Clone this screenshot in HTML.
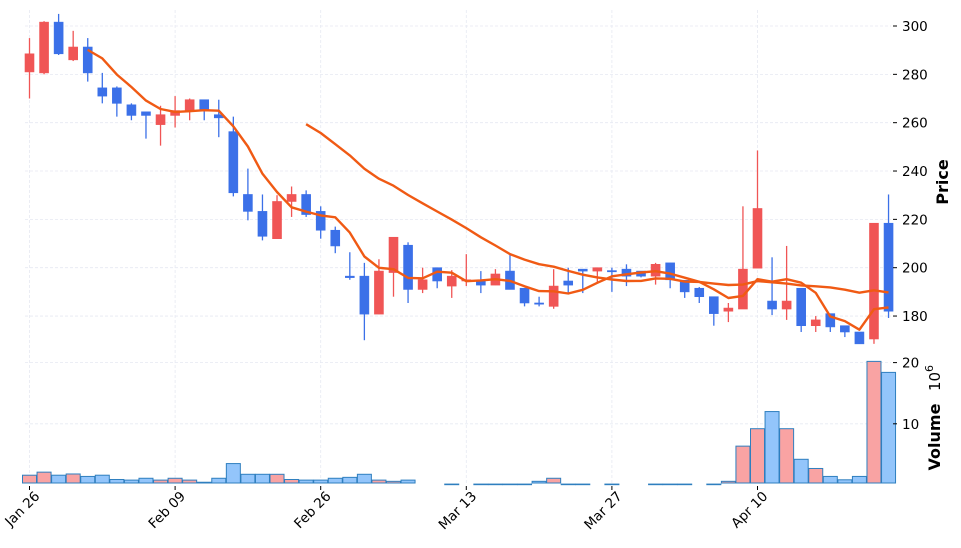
<!DOCTYPE html>
<html><head><meta charset="utf-8"><style>
html,body{margin:0;padding:0;background:#fff;}
svg{display:block;font-family:"DejaVu Sans","Liberation Sans",sans-serif;}
</style></head><body>
<svg id="chart" width="961" height="548" viewBox="0 0 961 548" xmlns="http://www.w3.org/2000/svg">
<g id="grid"></g>
<g id="vol"></g>
<g id="candles"></g>
<g id="mas"></g>
<g id="axes"></g>
<text x="0" y="0" transform="translate(948,182) rotate(-90)" text-anchor="middle" font-size="16" font-weight="bold">Price</text>
<text x="0" y="0" transform="translate(940,437) rotate(-90)" text-anchor="middle" font-size="16" font-weight="bold">Volume</text>
<text x="0" y="0" transform="translate(940,378) rotate(-90)" text-anchor="middle" font-size="15">10<tspan font-size="11" dy="-7">6</tspan></text>
</svg>
<script>
const opens  = [281,280.6,301.6,286,291.3,274.4,274.4,267.4,264.5,259.2,263,265,269.5,263.3,256.3,230.3,223.3,212,227.4,230.3,223.3,215.5,196.5,196.5,180.8,198,209.3,191,200,192.4,194.5,194.8,192.8,198.6,191.5,185.4,184,194.5,199.4,198.6,198.8,199.4,198.6,196.5,202,194.8,191.5,188,182,182.9,199.8,186.2,182.9,191.5,176,181,176,173.4,170.5,218.4];
const closes = [288.5,301.6,288.5,291.3,280.6,271,268,263,263,263.3,265,269.5,265,262,231,223.3,213,227.4,230.3,222,215.5,209,195.9,180.8,198.6,212.6,191,195,194.5,196.5,195,192.8,197.4,191,185.4,185,192.4,192.8,198.6,200,198.4,196.5,196.5,201.4,195,190,188,181,183.3,199.4,224.5,182.9,186.2,176,178.4,175.5,173.4,168.5,218.4,182];
const highs  = [295,302,305,298,295,280.6,275,268,264.5,267,271,270,269.5,269.5,262.5,241,230.3,230,233.6,232,225.4,217,206.4,202,203.5,212.6,210.5,200,200,199,205.6,198.6,199.4,205.6,191.5,188,199.4,200,199.4,200,200,201.4,198.6,202,202,194.8,192,188,185.4,225.4,248.5,204.3,209,191.5,180,181,176,173.4,218.4,230.3];
const lows   = [270,280,288,285.5,277,268,262.5,261,253.4,250.5,258,261,261,254,229.5,219.6,211.3,212,221,221,212,206,195,170,180.8,188,185.4,189.5,191.5,187.5,192.4,189.5,192.8,191,184,184,183,189.5,189.5,194,190,192.4,196,193,191.5,187.5,185.4,176,177.5,182.9,199.8,180.4,178.4,173.4,173.4,173.4,171.3,168.5,168.5,179.2];
const volumes = [1.6,2.1,1.6,1.8,1.4,1.6,0.9,0.8,1.1,0.8,1.1,0.8,0.45,1.1,3.5,1.75,1.75,1.75,0.9,0.8,0.8,1.1,1.25,1.75,0.8,0.6,0.8,0,0,0.15,0,0.15,0.15,0.15,0.15,0.6,1.1,0.15,0.15,0,0.15,0,0,0.15,0.15,0.15,0,0.15,0.6,6.35,9.2,12,9.2,4.2,2.7,1.4,0.85,1.4,20.2,18.4];
const xTickIdx = [0,10,20,30,40,50];
const xTickLabels = ["Jan 26","Feb 09","Feb 26","Mar 13","Mar 27","Apr 10"];
const priceTicks = [180,200,220,240,260,280,300];
const volTicks = [10,20];
const maPeriods = [5,20];

const NS="http://www.w3.org/2000/svg";
const L=25,R=891,MT=10,MB=356,VT=356,VB=483;
const xs=i=>29.5+i*14.56;
const yp=p=>26+(300-p)*2.417;
const yv=v=>485-v*6.12;
function mk(tag,attrs,parent){const e=document.createElementNS(NS,tag);for(const k in attrs)e.setAttribute(k,attrs[k]);parent.appendChild(e);return e;}
const grid=document.getElementById('grid'),axes=document.getElementById('axes');
const gs={stroke:"#e6e9f2","stroke-width":0.8,"stroke-dasharray":"3,2"};
priceTicks.forEach(t=>{
  const g=mk('line',Object.assign({x1:L,x2:R,y1:yp(t),y2:yp(t)},gs),grid);
  
  const tk=mk('line',{x1:R+2,x2:R+6,y1:yp(t),y2:yp(t),stroke:"#000","stroke-width":1},axes);
  
  const tx=mk('text',{x:R+11,y:yp(t)+5,"font-size":13.5},axes);tx.textContent=t;
  
});
volTicks.forEach(t=>{
  const g=mk('line',Object.assign({x1:L,x2:R,y1:yv(t),y2:yv(t)},gs),grid);
  
  const tk=mk('line',{x1:R+2,x2:R+6,y1:yv(t),y2:yv(t),stroke:"#000","stroke-width":1},axes);
  
  const tx=mk('text',{x:R+11,y:yv(t)+5,"font-size":13.5},axes);tx.textContent=t;
  
});
xTickIdx.forEach((ix,k)=>{
  const x=xs(ix);
  const g=mk('line',Object.assign({x1:x,x2:x,y1:MT,y2:VB},gs),grid);
  
  const tk=mk('line',{x1:x,x2:x,y1:486,y2:490,stroke:"#000","stroke-width":1},axes);
  
  const ax=x+11,ay=497;
  const tx=mk('text',{x:ax,y:ay,"font-size":13.5,"text-anchor":"end",transform:`rotate(-45 ${ax} ${ay})`},axes);
  tx.textContent=xTickLabels[k];
  
});
const vol=document.getElementById('vol');
volumes.forEach((v,i)=>{
  if(v<=0)return;
  const up=closes[i]>=opens[i];
  const top=Math.max(yv(v),360);
  const r=mk('rect',{x:xs(i)-7,y:top,width:14,height:Math.max(VB-top,0.6),fill:up?"#f9a3a3":"#93c5fb",stroke:"#2f7fbf","stroke-width":1},vol);
  
});
const cg=document.getElementById('candles');
opens.forEach((o,i)=>{
  const c=closes[i],up=c>=o,col=up?"#f05555":"#3b70e8",x=xs(i);
  const w=mk('line',{x1:x,x2:x,y1:yp(highs[i]),y2:yp(lows[i]),stroke:col,"stroke-width":1.3},cg);
  
  const t=yp(Math.max(o,c)),b=yp(Math.min(o,c));
  const r=mk('rect',{x:x-4.5,y:t,width:9,height:Math.max(b-t,1.2),fill:col,stroke:col,"stroke-width":0.6},cg);
  
});
const mg=document.getElementById('mas');
maPeriods.forEach(p=>{
  let pts=[];
  for(let i=p-1;i<closes.length;i++){let s=0;for(let j=i-p+1;j<=i;j++)s+=closes[j];pts.push(xs(i).toFixed(1)+","+yp(s/p).toFixed(1));}
  const pl=mk('polyline',{points:pts.join(" "),fill:"none",stroke:"#f05a14","stroke-width":2.4,"stroke-linejoin":"round"},mg);
  
});
</script>
</body></html>
